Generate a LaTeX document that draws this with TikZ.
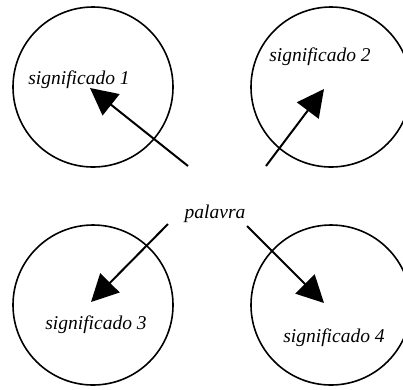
\documentclass[tikz,border=0pt]{standalone}
\usepackage{fontspec}
\setmainfont{Liberation Serif}
\usetikzlibrary{arrows.meta}

\begin{document}
\begin{tikzpicture}[x=1pt,y=-1pt]

    \tikzset{
      meaning/.style={
        circle,
        draw,
        line width=1.6pt,
        inner sep=0pt,
        minimum size=160pt,
      },
      word/.style={
        font=\fontsize{19.5}{23}\selectfont\itshape,
        inner sep=0pt,
      },
      pointer/.style={
        line width=2pt,
        -{Triangle[length=27pt,width=27pt]},
      },
    }
    \useasboundingbox (0,0) rectangle (403,389);
	% the four circles
	\node[meaning] (c1) at (93,87) {};
	\node[meaning] (c2) at (331,87) {};
	\node[meaning] (c3) at (93,305) {};
	\node[meaning] (c4) at (331,305) {};
	% labels
	\node[word] (sig1) at (79,80) {significado 1};
	\node[word] (sig2) at (320,57) {significado 2};
	\node[word] (sig3) at (96,325) {significado 3};
	\node[word] (sig4) at (334,338) {significado 4};
	\node[word] (pal) at (215,214) {palavra};
	% arrow ends
	\coordinate (a1) at (188,166);
	\coordinate (t1) at (90,88);
	\coordinate (a2) at (266,166);
	\coordinate (t2) at (324,89);
	\coordinate (a3) at (168,224);
	\coordinate (t3) at (91,302);
	\coordinate (a4) at (247,226);
	\coordinate (t4) at (324,303);
	\draw[pointer] (a1)--(t1);
	\draw[pointer] (a2)--(t2);
	\draw[pointer] (a3)--(t3);
	\draw[pointer] (a4)--(t4);

\end{tikzpicture}
\end{document}
